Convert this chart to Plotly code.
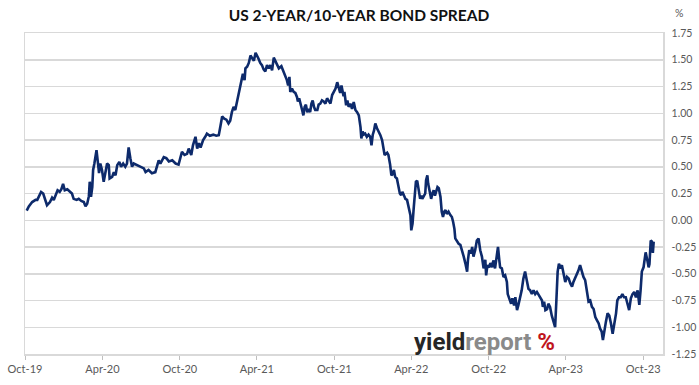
import pandas as pd
import plotly.graph_objects as go

# ---- data ----
start_date = "2019-10-01"

days_from_start = [
    4, 9, 17, 25, 29, 33, 38, 43, 48, 52, 59, 64, 68, 72, 77, 82, 86, 90, 94, 100,
    106, 111, 115, 122, 127, 133, 139, 143, 147, 151, 153, 156, 159, 161, 164, 169, 172, 175, 178, 182,
    186, 190, 194, 198, 200, 206, 210, 214, 218, 223, 227, 232, 237, 241, 245, 249, 253, 257, 265, 273,
    281, 285, 292, 300, 308,
    316, 320, 328, 334, 340, 348, 356, 363, 367, 371, 377, 383, 387, 393, 397, 403, 407, 411, 415, 421,
    426, 430, 437, 445, 452, 458,
    462, 466, 471, 476, 481, 485, 489, 493, 497, 501, 505, 507, 511, 513, 515, 519, 521, 525, 529, 533,
    537, 541, 545, 549, 552, 556, 560, 564, 568, 572, 576, 580, 584, 588, 592,
    600, 606, 611, 615, 619, 622, 625, 627, 631, 635, 639, 643, 645, 648, 652, 655, 658, 661, 664, 667,
    670, 674, 677, 680, 683, 686, 691, 694, 698, 702, 706, 710, 714, 718, 722, 726, 730, 734, 738, 741,
    745, 748, 751, 753, 755, 759, 762, 765, 769, 773, 777, 781, 785, 789, 793, 795, 798, 800, 804, 808,
    812, 816, 819, 822, 825, 828, 832, 836, 840, 844, 848, 850, 856, 859, 863, 866, 869, 872, 875, 879,
    883, 886, 889, 892, 896, 899,
    903, 907, 911, 913, 916, 919, 921, 924, 927, 929, 932, 934, 937, 939, 942, 946, 948, 951, 953, 956,
    960, 963, 966, 969, 972, 975, 978, 982, 985, 988, 991, 994, 997, 1001, 1005, 1009, 1012, 1015, 1017, 1021,
    1025, 1029, 1033, 1037, 1041, 1045, 1047, 1050, 1054, 1057, 1060, 1064, 1068, 1072, 1076, 1080, 1084, 1088, 1090, 1093,
    1097, 1100, 1104, 1107, 1111, 1115, 1118, 1121, 1123, 1127, 1131, 1135, 1139, 1141, 1145, 1149, 1152, 1156, 1159, 1163,
    1166, 1170, 1174, 1178, 1182, 1186, 1190, 1194, 1198, 1202, 1206, 1210, 1214, 1218, 1222, 1224, 1227, 1230, 1234, 1237,
    1241, 1245, 1249, 1253, 1256, 1259, 1262, 1265, 1269, 1273, 1277, 1281, 1285, 1289, 1293, 1296, 1300, 1304, 1308, 1312,
    1316, 1320, 1324, 1328, 1332, 1336, 1340, 1344, 1348, 1352, 1356, 1359, 1363, 1366, 1369, 1373, 1377, 1381, 1385, 1389,
    1393, 1397, 1400, 1404, 1408, 1412, 1416, 1420, 1424, 1428, 1432, 1436, 1440, 1444, 1448,
    1452, 1455, 1458, 1462, 1464, 1467, 1471, 1474, 1476, 1479, 1482, 1484, 1486,
]

spread = [
    0.09, 0.13, 0.17, 0.19, 0.19, 0.22, 0.265, 0.25, 0.19, 0.14, 0.17, 0.21, 0.19, 0.235, 0.28, 0.265, 0.29, 0.34, 0.28, 0.29,
    0.265, 0.25, 0.20, 0.19, 0.20, 0.18, 0.17, 0.13, 0.155, 0.225, 0.36, 0.22, 0.31, 0.47, 0.53, 0.655, 0.55, 0.44, 0.53, 0.47,
    0.36, 0.44, 0.53, 0.515, 0.39, 0.405, 0.45, 0.42, 0.515, 0.545, 0.50, 0.53, 0.50, 0.53, 0.68, 0.58, 0.50, 0.53, 0.515, 0.50,
    0.485, 0.45, 0.47, 0.44, 0.45,
    0.56, 0.53, 0.59, 0.58, 0.55, 0.56, 0.53, 0.52, 0.58, 0.64, 0.61, 0.62, 0.67, 0.61, 0.70, 0.78, 0.67, 0.72, 0.68, 0.75,
    0.78, 0.81, 0.79, 0.80, 0.79, 0.795,
    0.88, 0.97, 0.95, 0.94, 0.905, 0.93, 1.01, 1.06, 1.03, 1.11, 1.185, 1.23, 1.28, 1.34, 1.37, 1.31, 1.42, 1.435, 1.47, 1.54,
    1.51, 1.49, 1.565, 1.54, 1.51, 1.47, 1.45, 1.41, 1.39, 1.45, 1.42, 1.45, 1.40, 1.52, 1.49,
    1.42, 1.44, 1.39, 1.36, 1.31, 1.26, 1.34, 1.20, 1.23, 1.20, 1.19, 1.15, 1.11, 1.14, 1.09, 1.03, 0.98, 1.06, 1.08, 1.01,
    1.04, 1.01, 1.09, 1.12, 1.06, 1.03, 1.03, 1.08, 1.09, 1.12, 1.11, 1.09, 1.14, 1.11, 1.09, 1.17, 1.20, 1.23, 1.29, 1.25,
    1.19, 1.26, 1.215, 1.16, 1.20, 1.075, 1.12, 1.06, 1.09, 1.04, 1.105, 1.03, 1.01, 0.98, 0.87, 0.765, 0.83, 0.80, 0.81, 0.78,
    0.80, 0.78, 0.70, 0.80, 0.84, 0.905, 0.86, 0.83, 0.795, 0.75, 0.67, 0.61, 0.63, 0.61, 0.52, 0.42, 0.43, 0.47, 0.405, 0.39,
    0.31, 0.25, 0.235, 0.265, 0.23, 0.20,
    0.19, 0.13, 0.047, -0.094, -0.03, 0.125, 0.25, 0.36, 0.37, 0.33, 0.25, 0.20, 0.23, 0.20, 0.22, 0.25, 0.375, 0.42, 0.34, 0.28,
    0.20, 0.25, 0.28, 0.23, 0.265, 0.31, 0.30, 0.22, 0.08, 0.03, 0.08, 0.094, 0.06, 0.08, 0.05, 0.03, -0.016, -0.08, -0.17, -0.20,
    -0.22, -0.23, -0.28, -0.34, -0.405, -0.48, -0.37, -0.28, -0.31, -0.25, -0.34, -0.28, -0.19, -0.17, -0.28, -0.34, -0.45, -0.37, -0.515, -0.42,
    -0.44, -0.40, -0.44, -0.375, -0.45, -0.34, -0.25, -0.37, -0.44, -0.45, -0.53, -0.515, -0.577, -0.69, -0.73, -0.78, -0.73, -0.795, -0.72, -0.84,
    -0.795, -0.73, -0.655, -0.545, -0.48, -0.56, -0.64, -0.655, -0.69, -0.655, -0.69, -0.67, -0.70, -0.72, -0.75, -0.81, -0.76, -0.84, -0.83, -0.78,
    -0.81, -0.89, -0.935, -1.00, -0.75, -0.48, -0.405, -0.45, -0.42, -0.50, -0.577, -0.53, -0.545, -0.59, -0.62, -0.58, -0.545, -0.515, -0.47, -0.42,
    -0.48, -0.53, -0.56, -0.655, -0.76, -0.75, -0.81, -0.83, -0.905, -0.935, -0.965, -1.01, -1.04, -1.12, -1.03, -0.95, -0.87, -0.89, -0.965, -1.06,
    -0.965, -0.87, -0.75, -0.72, -0.72, -0.69, -0.72, -0.72, -0.78, -0.84, -0.73, -0.69, -0.67, -0.72, -0.655,
    -0.79, -0.655, -0.48, -0.44, -0.375, -0.30, -0.375, -0.44, -0.41, -0.19, -0.20, -0.305, -0.20,
]
assert len(days_from_start) == len(spread)

x_tick_dates = ["2019-10-01", "2020-04-01", "2020-10-01", "2021-04-01", "2021-10-01",
                "2022-04-01", "2022-10-01", "2023-04-01", "2023-10-01"]
x_tick_labels = ["Oct-19", "Apr-20", "Oct-20", "Apr-21", "Oct-21",
                 "Apr-22", "Oct-22", "Apr-23", "Oct-23"]
y_tick_vals = [-1.25, -1.0, -0.75, -0.5, -0.25, 0.0, 0.25, 0.5, 0.75, 1.0, 1.25, 1.5, 1.75]
y_tick_labels = ["-1.25", "-1.00", "-0.75", "-0.50", "-0.25", "0.00", "0.25",
                 "0.50", "0.75", "1.00", "1.25", "1.50", "1.75"]

dates = pd.Timestamp(start_date) + pd.to_timedelta(days_from_start, unit="D")

FONT_FAMILY = "Lato, Carlito, Calibri, sans-serif"
X_TICK_FONT = dict(family=FONT_FAMILY, size=11, color="#595959")
Y_TICK_FONT = dict(family=FONT_FAMILY, size=10.5, color="#595959")
GRID = "#d9d9d9"

W, H = 699, 385

fig = go.Figure()
fig.add_trace(go.Scatter(
    x=dates, y=spread, mode="lines",
    line=dict(color="#0d2a6b", width=2.6),
    hoverinfo="skip", showlegend=False,
))

fig.update_layout(
    width=W, height=H,
    margin=dict(l=25, r=36, t=33, b=31, autoexpand=False),
    paper_bgcolor="white", plot_bgcolor="white",
    title=dict(
        text="<b>US 2-YEAR/10-YEAR BOND SPREAD</b>",
        x=359 / W, xref="container", xanchor="center",
        y=1 - 16 / H, yref="container", yanchor="middle",
        font=dict(family=FONT_FAMILY, size=15.5, color="#111111", weight=900),
        automargin=False,
    ),
    xaxis=dict(
        type="date",
        range=["2019-10-01", "2023-11-17"],
        tickvals=x_tick_dates, ticktext=x_tick_labels,
        showgrid=False, zeroline=False,
        showline=True, linecolor=GRID, linewidth=1.5, mirror=True,
        ticks="outside", ticklen=4, tickcolor="#bfbfbf", tickwidth=1,
        tickfont=X_TICK_FONT, automargin=False,
    ),
    yaxis=dict(
        side="right",
        range=[-1.25, 1.75],
        tickvals=y_tick_vals, ticktext=y_tick_labels,
        showgrid=True, gridcolor=GRID, gridwidth=1.5,
        zeroline=False,
        showline=True, linecolor=GRID, linewidth=1.5, mirror=True,
        ticks="", ticklabelstandoff=5,
        tickfont=Y_TICK_FONT, automargin=False,
    ),
)

fig.add_annotation(
    text="%", xref="paper", yref="paper", x=(679 - 25) / 638, y=(354 - 13) / 321,
    xanchor="center", yanchor="middle", showarrow=False,
    font=Y_TICK_FONT,
)

fig.add_annotation(
    text=("<b><span style='color:#262626'>yield</span>"
          "<span style='color:#8a8a8a'>report</span> "
          "<span style='color:#c0141c'>%</span></b>"),
    xref="paper", yref="paper", x=(484 - 25) / 638, y=(354 - 342) / 321,
    xanchor="center", yanchor="middle", showarrow=False,
    font=dict(family="Roboto, sans-serif", size=24, weight=900),
)

# remove the browser's default 8px page margin so the figure fills the window exactly
fig.write_html(
    "out.html",
    config={"displayModeBar": False, "staticPlot": True},
    post_script="document.body.style.margin='0';",
)
